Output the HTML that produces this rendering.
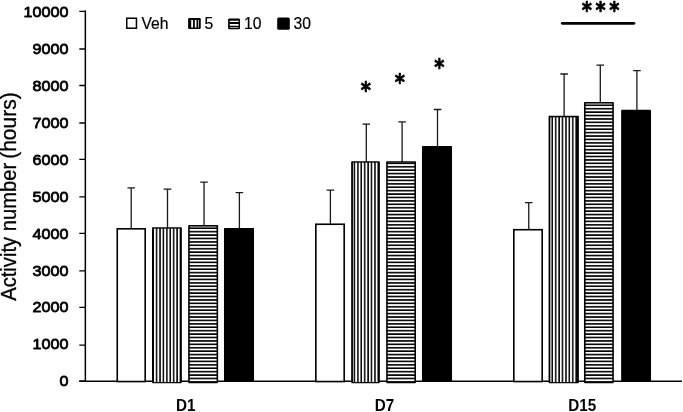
<!DOCTYPE html>
<html lang="en"><head><meta charset="utf-8"><title>Activity number (hours)</title>
<style>
html,body{margin:0;padding:0;background:#fff;}
body{width:683px;height:412px;overflow:hidden;}
svg{display:block;}
text{font-family:"Liberation Sans",sans-serif;fill:#000;}
.tk{font-size:14.5px;stroke:#000;stroke-width:0.75px;stroke-linejoin:round;}
.xl{font-size:17.2px;font-weight:bold;}
.yl{font-size:21.2px;stroke:#000;stroke-width:0.3px;}
.lg{font-size:15.7px;stroke:#000;stroke-width:0.2px;}
.as{font-family:"DejaVu Sans",sans-serif;font-size:19.4px;font-weight:bold;stroke:#000;stroke-width:0.6px;stroke-linejoin:round;}
</style></head><body>
<svg width="683" height="412" viewBox="0 0 683 412">
<rect width="683" height="412" fill="#fff"/>
<defs>
<pattern id="pv" patternUnits="userSpaceOnUse" x="153.98" y="0" width="3.411" height="50"><rect width="3.411" height="50" fill="#000"/><rect width="1.9" height="50" fill="#fff"/></pattern>
<pattern id="ph" patternUnits="userSpaceOnUse" x="0" y="229.05" width="50" height="3.415"><rect width="50" height="3.415" fill="#000"/><rect width="50" height="1.8" fill="#fff"/></pattern>
</defs>
<path d="M131.2 229.28 V187.9 M127.39999999999999 187.9 H135.0 M127.49999999999999 229.68 H134.89999999999998" stroke="#1a1a1a" stroke-width="1.3" fill="none"/>
<path d="M167.5 228.35 V189.15 M163.7 189.15 H171.3 M163.8 228.75 H171.2" stroke="#1a1a1a" stroke-width="1.3" fill="none"/>
<path d="M204.04 226.29999999999998 V182.2 M200.23999999999998 182.2 H207.84 M200.34 226.7 H207.73999999999998" stroke="#1a1a1a" stroke-width="1.3" fill="none"/>
<path d="M239.4 229.1 V192.7 M235.6 192.7 H243.20000000000002 M235.70000000000002 229.5 H243.1" stroke="#1a1a1a" stroke-width="1.3" fill="none"/>
<path d="M330.4 224.7 V190.2 M326.59999999999997 190.2 H334.2 M326.7 225.1 H334.09999999999997" stroke="#1a1a1a" stroke-width="1.3" fill="none"/>
<path d="M366.3 162.35 V124.15 M362.5 124.15 H370.1 M362.6 162.75 H370.0" stroke="#1a1a1a" stroke-width="1.3" fill="none"/>
<path d="M402.1 162.35 V121.8 M398.3 121.8 H405.90000000000003 M398.40000000000003 162.75 H405.8" stroke="#1a1a1a" stroke-width="1.3" fill="none"/>
<path d="M437.5 147.2 V109.5 M433.7 109.5 H441.3 M433.8 147.6 H441.2" stroke="#1a1a1a" stroke-width="1.3" fill="none"/>
<path d="M528.75 230.16 V202.7 M524.95 202.7 H532.55 M525.05 230.56 H532.45" stroke="#1a1a1a" stroke-width="1.3" fill="none"/>
<path d="M564.1 117.04 V74.0 M560.3000000000001 74.0 H567.9 M560.4 117.44 H567.8000000000001" stroke="#1a1a1a" stroke-width="1.3" fill="none"/>
<path d="M600.3 103.28 V65.2 M596.5 65.2 H604.0999999999999 M596.5999999999999 103.67999999999999 H604.0" stroke="#1a1a1a" stroke-width="1.3" fill="none"/>
<path d="M636.9 111.04 V70.55 M633.1 70.55 H640.6999999999999 M633.1999999999999 111.44 H640.6" stroke="#1a1a1a" stroke-width="1.3" fill="none"/>
<path d="M85.35 10.60 V381.15 M79.3 381.15 H681.9" stroke="#000" stroke-width="1.5" fill="none"/>
<path d="M79.3 381.17 H86M79.3 345.05 H86M79.3 307.44 H86M79.3 270.92 H86M79.3 233.34 H86M79.3 196.92 H86M79.3 159.36 H86M79.3 122.95 H86M79.3 85.49 H86M79.3 48.95 H86M79.3 11.30 H86" stroke="#000" stroke-width="1.35" fill="none"/>
<rect x="117.25" y="228.83" width="27.93" height="152.72" fill="#fff" stroke="#000" stroke-width="1.6"/>
<rect x="152.00" y="227.15" width="29.85" height="156.00" rx="0.8" fill="#000"/>
<rect x="153.80" y="228.65" width="26.15" height="153.40" fill="url(#pv)"/>
<rect x="188.15" y="225.10" width="30.00" height="158.05" rx="0.8" fill="#000"/>
<rect x="189.75" y="226.60" width="26.80" height="155.25" fill="url(#ph)"/>
<rect x="223.98" y="227.90" width="30.05" height="153.85" rx="0.8" fill="#000"/>
<rect x="315.83" y="224.25" width="28.35" height="157.30" fill="#fff" stroke="#000" stroke-width="1.6"/>
<rect x="351.15" y="161.15" width="28.70" height="222.00" rx="0.8" fill="#000"/>
<rect x="352.95" y="162.65" width="25.00" height="219.40" fill="url(#pv)"/>
<rect x="386.15" y="161.15" width="29.85" height="222.00" rx="0.8" fill="#000"/>
<rect x="387.75" y="162.65" width="26.65" height="219.20" fill="url(#ph)"/>
<rect x="421.98" y="146.00" width="30.05" height="235.75" rx="0.8" fill="#000"/>
<rect x="513.83" y="229.71" width="28.35" height="151.84" fill="#fff" stroke="#000" stroke-width="1.6"/>
<rect x="548.57" y="115.84" width="30.29" height="267.31" rx="0.8" fill="#000"/>
<rect x="550.37" y="117.34" width="26.59" height="264.71" fill="url(#pv)"/>
<rect x="583.98" y="102.08" width="29.88" height="281.07" rx="0.8" fill="#000"/>
<rect x="585.58" y="103.58" width="26.68" height="278.27" fill="url(#ph)"/>
<rect x="621.15" y="109.84" width="29.88" height="271.91" rx="0.8" fill="#000"/>
<text class="tk" transform="translate(68.4 386.39) scale(1.115 1)" x="0" y="0" text-anchor="end">0</text>
<text class="tk" transform="translate(68.4 349.44) scale(1.115 1)" x="0" y="0" text-anchor="end">1000</text>
<text class="tk" transform="translate(68.4 312.48) scale(1.115 1)" x="0" y="0" text-anchor="end">2000</text>
<text class="tk" transform="translate(68.4 275.53) scale(1.115 1)" x="0" y="0" text-anchor="end">3000</text>
<text class="tk" transform="translate(68.4 238.58) scale(1.115 1)" x="0" y="0" text-anchor="end">4000</text>
<text class="tk" transform="translate(68.4 201.62) scale(1.115 1)" x="0" y="0" text-anchor="end">5000</text>
<text class="tk" transform="translate(68.4 164.67) scale(1.115 1)" x="0" y="0" text-anchor="end">6000</text>
<text class="tk" transform="translate(68.4 127.72) scale(1.115 1)" x="0" y="0" text-anchor="end">7000</text>
<text class="tk" transform="translate(68.4 90.77) scale(1.115 1)" x="0" y="0" text-anchor="end">8000</text>
<text class="tk" transform="translate(68.4 53.81) scale(1.115 1)" x="0" y="0" text-anchor="end">9000</text>
<text class="tk" transform="translate(68.4 16.86) scale(1.115 1)" x="0" y="0" text-anchor="end">10000</text>
<text class="xl" transform="translate(185.65 410.6) scale(0.885 1)" x="0" y="0" text-anchor="middle">D1</text>
<text class="xl" transform="translate(384.5 410.6) scale(0.885 1)" x="0" y="0" text-anchor="middle">D7</text>
<text class="xl" transform="translate(582.27 410.6) scale(0.885 1)" x="0" y="0" text-anchor="middle">D15</text>
<text class="yl" transform="translate(15.6 300.8) rotate(-90)" textLength="137.9" lengthAdjust="spacingAndGlyphs">Activity number</text>
<text class="yl" transform="translate(15.6 158.8) rotate(-90)" textLength="66.5" lengthAdjust="spacingAndGlyphs">(hours)</text>
<rect x="126.75" y="18.25" width="9.7" height="9.95" fill="#fff" stroke="#000" stroke-width="1.5"/>
<rect x="188.1" y="18.1" width="12.65" height="10.95" rx="1.2" fill="#000"/>
<path d="M191.2 20 h1.8 v7.6 h-1.8z M194.8 20 h1.7 v7.6 h-1.7z M198.1 20 h0.7 v7.6 h-0.7z" fill="#fff"/>
<rect x="228.1" y="18.4" width="11.9" height="10.9" rx="1.2" fill="#000"/>
<path d="M229.8 20.8 h8.8 v1.2 h-8.8z M229.8 23.95 h8.8 v1.7 h-8.8z" fill="#fff"/><path d="M229.8 27 h8.8 v0.8 h-8.8z" fill="#ccc"/>
<rect x="277.2" y="17.5" width="12.6" height="12.3" rx="1.5" fill="#000"/>
<text class="lg" x="141.4" y="28.8">Veh</text>
<text class="lg" x="204.4" y="28.8">5</text>
<text class="lg" x="244.1" y="28.8">10</text>
<text class="lg" x="293.6" y="28.8">30</text>
<text class="as" transform="translate(365.90 86.95) scale(1 1.15)" x="0" y="10.01" text-anchor="middle">*</text>
<text class="as" transform="translate(399.90 78.70) scale(1 1.15)" x="0" y="10.01" text-anchor="middle">*</text>
<text class="as" transform="translate(439.20 63.80) scale(1 1.15)" x="0" y="10.01" text-anchor="middle">*</text>
<text class="as" transform="translate(586.85 6.75) scale(1 1.15)" x="0" y="10.01" text-anchor="middle">*</text>
<text class="as" transform="translate(600.65 6.75) scale(1 1.15)" x="0" y="10.01" text-anchor="middle">*</text>
<text class="as" transform="translate(614.40 6.75) scale(1 1.15)" x="0" y="10.01" text-anchor="middle">*</text>
<path d="M562.3 23.3 H633.9" stroke="#000" stroke-width="2.8" stroke-linecap="round"/>
</svg>
</body></html>
